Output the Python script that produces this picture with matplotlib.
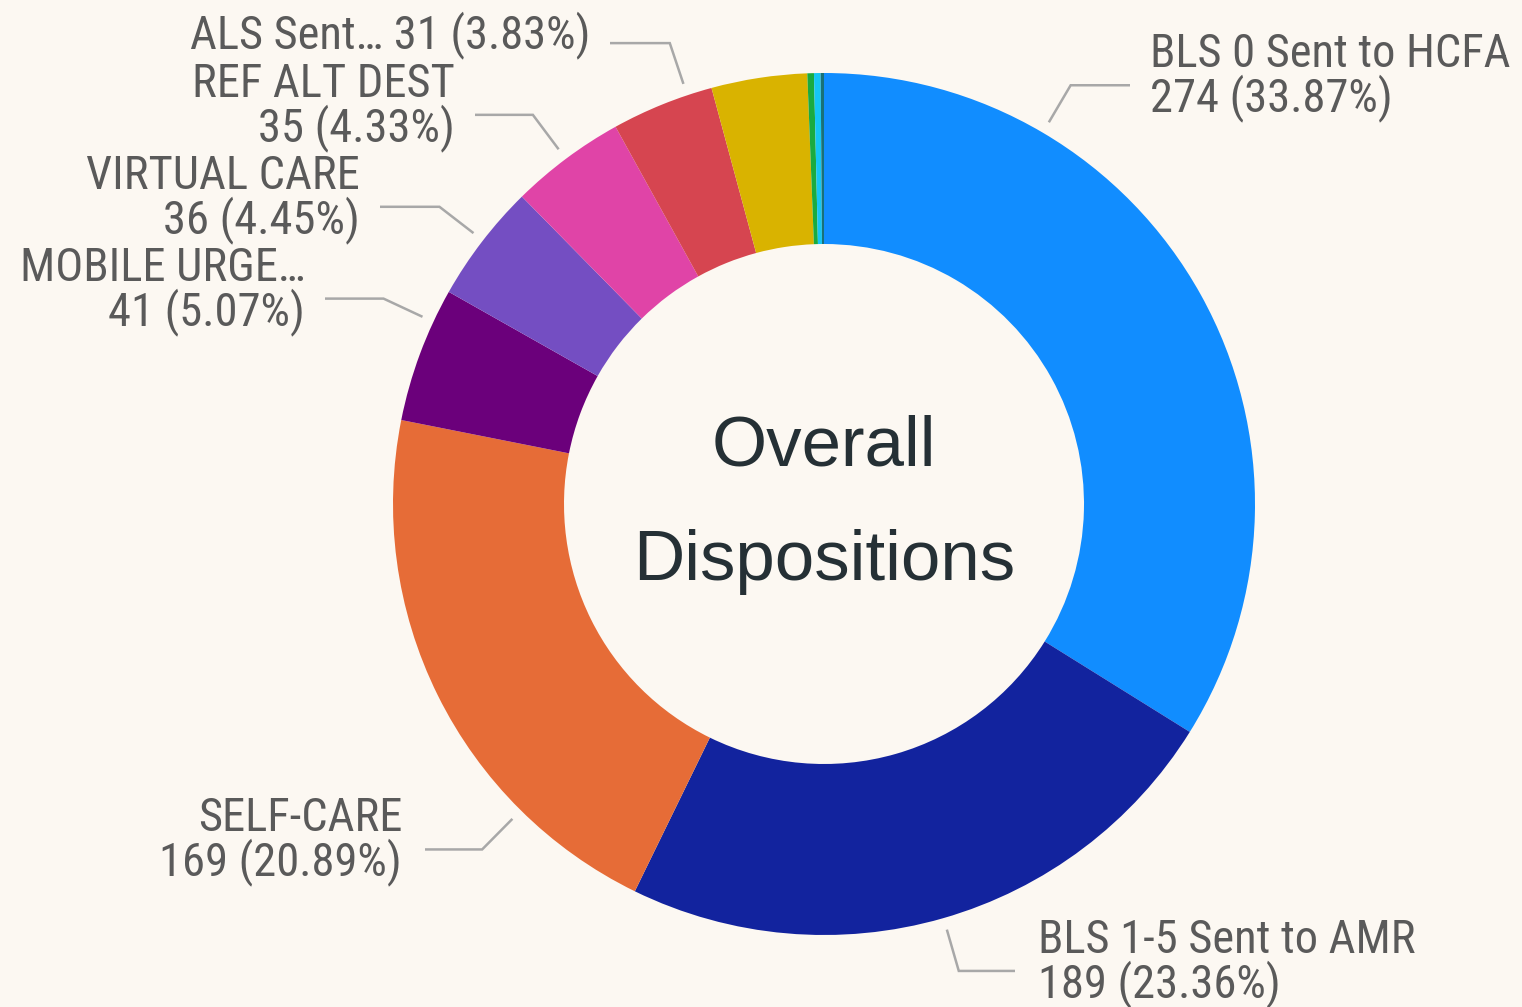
import matplotlib
matplotlib.use('Agg')
import numpy as np
import matplotlib.pyplot as plt
from matplotlib import font_manager

# data (clockwise from 12 o'clock)
names = ['BLS 0 Sent to HCFA', 'BLS 1-5 Sent to AMR', 'SELF-CARE', 'MOBILE URGE\u2026',
         'VIRTUAL CARE', 'REF ALT DEST', 'ALS Sent\u2026', '', '', '', '']
counts = [274, 189, 169, 41, 36, 35, 31, 29, 2, 2, 1]
pct_labels = ['33.87%', '23.36%', '20.89%', '5.07%', '4.45%', '4.33%', '3.83%', None, None, None, None]
colors = ['#118DFF', '#12239E', '#E66C37', '#6B007B', '#744EC2', '#E044A7', '#D64550',
          '#D9B300', '#1AAB40', '#15C6F4', '#197278']

BG = '#FCF8F2'
W, H = 1522, 1007


def pick_font(cands):
    for f in cands:
        try:
            font_manager.findfont(f, fallback_to_default=False)
            return f
        except Exception:
            pass
    return 'DejaVu Sans'


label_font = pick_font(['Roboto Condensed', 'Liberation Sans Narrow', 'Roboto', 'DejaVu Sans'])
label_size = 33.5 if label_font in ('Roboto Condensed', 'Liberation Sans Narrow') else 29
center_font = pick_font(['Liberation Sans', 'Arial', 'DejaVu Sans'])

fig = plt.figure(figsize=(W / 100, H / 100), dpi=100, facecolor=BG)
ax = fig.add_axes([0, 0, 1, 1])
ax.set_facecolor(BG)

cx, cy, R = 824, H - 504, 431
ax.pie(counts, colors=colors, startangle=90, counterclock=False, radius=R,
       center=(cx, cy), wedgeprops=dict(width=171, linewidth=0))
ax.set_xlim(0, W)
ax.set_ylim(0, H)
ax.set_aspect('equal')
ax.axis('off')

# leader layout: angle of leader, end x of horizontal segment, text side
layout = [
    (59.5, 1130, 'left', 1150, False),
    (-73.9, 1015, 'left', 1038, False),
    (225.3, 425, 'right', 402, False),
    (155.0, 325, 'right', 305, False),
    (142.3, 380, 'right', 360, False),
    (126.8, 475, 'right', 455, False),
    (108.5, 610, 'right', 590, True),
]

for i, (ang, xend, ha, tx, one_line) in enumerate(layout):
    a = np.deg2rad(ang)
    x0, y0 = cx + 443 * np.cos(a), cy + 443 * np.sin(a)
    x1, y1 = cx + 486 * np.cos(a), cy + 486 * np.sin(a)
    ax.plot([x0, x1, xend], [y0, y1, y1], color='#A8A8A8', lw=1.8,
            solid_capstyle='butt', solid_joinstyle='miter')
    if one_line:
        txt = f'{names[i]} {counts[i]} ({pct_labels[i]})'
    else:
        txt = f'{names[i]}\n{counts[i]} ({pct_labels[i]})'
    ax.text(tx, y1 + 8, txt, ha=ha, va='center', fontsize=label_size, color='#5A5A5A',
            family=label_font, linespacing=0.95, multialignment=ha)

ax.text(cx, H - 466, 'Overall', ha='center', va='baseline', fontsize=51,
        color='#253035', family=center_font)
ax.text(cx, H - 580, 'Dispositions', ha='center', va='baseline', fontsize=51,
        color='#253035', family=center_font)

fig.savefig('out.png', dpi=100, facecolor=BG)
